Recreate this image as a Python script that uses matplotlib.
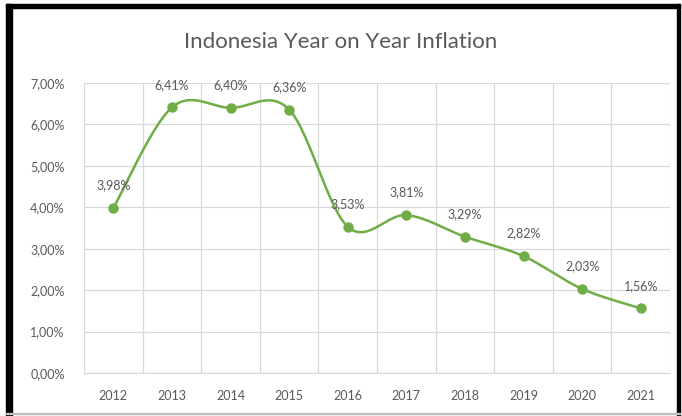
import matplotlib

matplotlib.use("Agg")
import matplotlib.pyplot as plt
import numpy as np
from matplotlib.patches import Rectangle

years = ["2012", "2013", "2014", "2015", "2016", "2017", "2018", "2019", "2020", "2021"]
inflation = [3.98, 6.41, 6.40, 6.36, 3.53, 3.81, 3.29, 2.82, 2.03, 1.56]
yticks = [0, 1, 2, 3, 4, 5, 6, 7]

GREEN = "#70ad47"
TEXT = "#595959"
GRID = "#d9d9d9"


def smooth(x, y, n=30):
    """Excel-like smoothed line: Catmull-Rom bezier through the points."""
    x = np.asarray(x, float)
    y = np.asarray(y, float)
    px = np.concatenate([[x[0]], x, [x[-1]]])
    py = np.concatenate([[y[0]], y, [y[-1]]])
    xs, ys = [], []
    t = np.linspace(0, 1, n)
    for i in range(1, len(px) - 2):
        p0 = np.array([px[i], py[i]])
        p3 = np.array([px[i + 1], py[i + 1]])
        p1 = p0 + (np.array([px[i + 1], py[i + 1]]) - np.array([px[i - 1], py[i - 1]])) / 6
        p2 = p3 - (np.array([px[i + 2], py[i + 2]]) - np.array([px[i], py[i]])) / 6
        b = ((1 - t) ** 3)[:, None] * p0 + (3 * (1 - t) ** 2 * t)[:, None] * p1 \
            + (3 * (1 - t) * t ** 2)[:, None] * p2 + (t ** 3)[:, None] * p3
        xs.append(b[:, 0])
        ys.append(b[:, 1])
    return np.concatenate(xs), np.concatenate(ys)


plt.rcParams["font.family"] = ["Lato", "DejaVu Sans"]

fig = plt.figure(figsize=(6.82, 4.16), dpi=100)
ax = fig.add_axes([84 / 682, 1 - 373 / 416, (670 - 84) / 682, (373 - 83) / 416])

xpos = np.arange(len(years))
sx, sy = smooth(xpos, inflation)
ax.plot(sx, sy, color=GREEN, lw=1.8, zorder=3, solid_capstyle="round")
ax.plot(xpos, inflation, "o", color=GREEN, ms=6.5, zorder=4)

for x, v in zip(xpos, inflation):
    ax.annotate(f"{v:.2f}%".replace(".", ","), (x, v), xytext=(0, 12), textcoords="offset points",
                ha="center", va="bottom", fontsize=9, color=TEXT, zorder=5)

ax.set_xlim(-0.5, len(years) - 0.5)
ax.set_ylim(0, 7)
ax.set_yticks(yticks)
ax.set_yticklabels([f"{v:.2f}%".replace(".", ",") for v in yticks])
ax.set_xticks(xpos)
ax.set_xticklabels(years)
ax.set_xticks(np.arange(-0.5, len(years)), minor=True)
ax.grid(True, axis="y", color=GRID, lw=0.9)
ax.grid(True, axis="x", which="minor", color=GRID, lw=0.9)
ax.tick_params(which="both", length=0, labelsize=9, labelcolor=TEXT)
ax.tick_params(axis="x", pad=12)
ax.tick_params(axis="y", pad=14)
for s in ["top", "right", "left"]:
    ax.spines[s].set_visible(False)
ax.spines["bottom"].set_color(GRID)
ax.set_axisbelow(True)

fig.text(0.5, 1 - 42 / 416, "Indonesia Year on Year Inflation", ha="center", va="center",
         fontsize=16, color=TEXT)

# black frame of the screenshot
fig.patches.append(Rectangle((6 / 682, 0), 6 / 682, 1 - 4 / 416, transform=fig.transFigure,
                             color="black", zorder=10))
fig.patches.append(Rectangle((6 / 682, 1 - 8 / 416), 674 / 682, 4 / 416, transform=fig.transFigure,
                             color="black", zorder=10))
fig.patches.append(Rectangle((677 / 682, 0), 3 / 682, 1 - 4 / 416, transform=fig.transFigure,
                             color="black", zorder=10))
fig.patches.append(Rectangle((6 / 682, 2 / 416), 674 / 682, 1 / 416, transform=fig.transFigure,
                             color="#bfbfbf", zorder=10))

fig.savefig("out.png", dpi=100)
